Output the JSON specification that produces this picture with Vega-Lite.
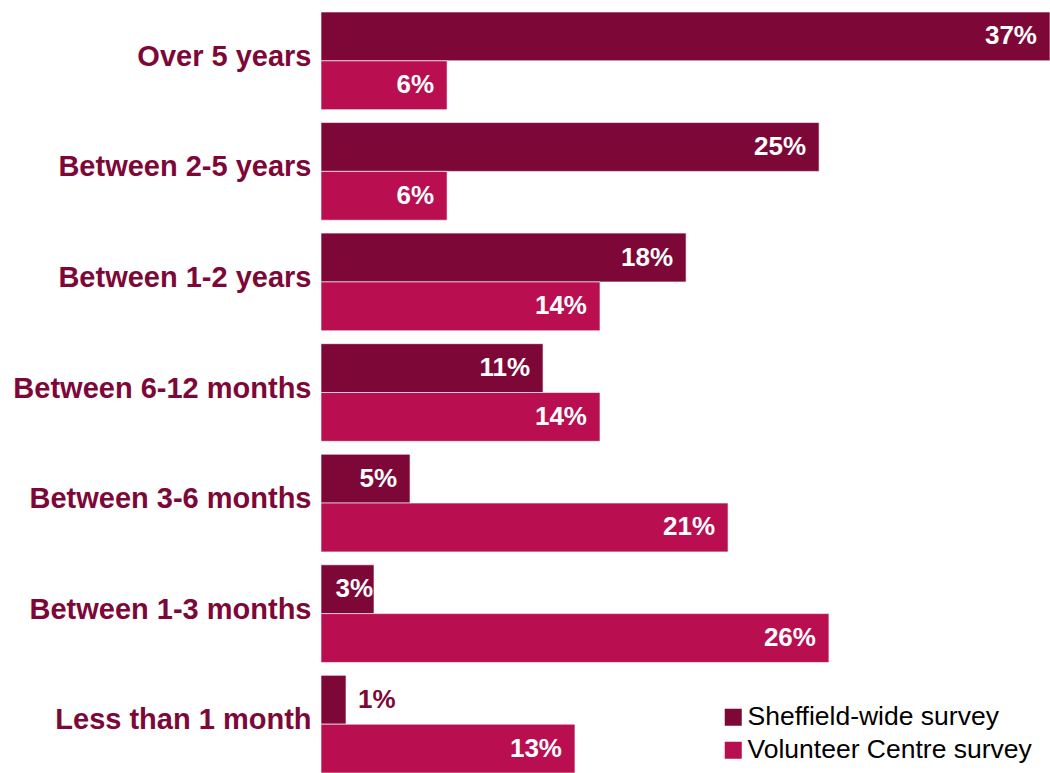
{
  "$schema": "https://vega.github.io/schema/vega-lite/v6.json",
  "autosize": {"type": "none"},
  "width": 729,
  "height": 761,
  "padding": {"left": 321, "top": 12, "right": 0, "bottom": 0},
  "background": "white",
  "config": {"view": {"stroke": null}, "font": "Liberation Sans"},
  "data": {
    "values": [
      {"category": "Over 5 years", "series": "Sheffield-wide survey", "value": 37.0, "label": "37%"},
      {"category": "Over 5 years", "series": "Volunteer Centre survey", "value": 6.4, "label": "6%"},
      {"category": "Between 2-5 years", "series": "Sheffield-wide survey", "value": 25.28, "label": "25%"},
      {"category": "Between 2-5 years", "series": "Volunteer Centre survey", "value": 6.4, "label": "6%"},
      {"category": "Between 1-2 years", "series": "Sheffield-wide survey", "value": 18.53, "label": "18%"},
      {"category": "Between 1-2 years", "series": "Volunteer Centre survey", "value": 14.16, "label": "14%"},
      {"category": "Between 6-12 months", "series": "Sheffield-wide survey", "value": 11.27, "label": "11%"},
      {"category": "Between 6-12 months", "series": "Volunteer Centre survey", "value": 14.16, "label": "14%"},
      {"category": "Between 3-6 months", "series": "Sheffield-wide survey", "value": 4.52, "label": "5%"},
      {"category": "Between 3-6 months", "series": "Volunteer Centre survey", "value": 20.66, "label": "21%"},
      {"category": "Between 1-3 months\u00a0", "series": "Sheffield-wide survey", "value": 2.69, "label": "3%"},
      {"category": "Between 1-3 months\u00a0", "series": "Volunteer Centre survey", "value": 25.78, "label": "26%"},
      {"category": "Less than 1 month", "series": "Sheffield-wide survey", "value": 1.27, "label": "1%"},
      {"category": "Less than 1 month", "series": "Volunteer Centre survey", "value": 12.89, "label": "13%"}
    ]
  },
  "encoding": {
    "y": {
      "field": "category", "type": "nominal", "sort": null, "title": null,
      "scale": {"paddingInner": 0.117, "paddingOuter": 0},
      "axis": {
        "domain": false, "ticks": false, "labelFont": "Liberation Sans",
        "labelFontWeight": "bold", "labelFontSize": 29, "labelColor": "#7D0838",
        "labelPadding": 10, "labelLimit": 0, "labelOffset": -4
      }
    },
    "yOffset": {"field": "series", "type": "nominal", "sort": null, "scale": {"paddingInner": 0, "paddingOuter": 0}},
    "x": {"field": "value", "type": "quantitative", "scale": {"domain": [0, 37], "nice": false, "zero": true}, "axis": null}
  },
  "layer": [
    {
      "mark": {"type": "bar", "stroke": "white", "strokeWidth": 1, "strokeOpacity": 0.6},
      "encoding": {
        "color": {
          "field": "series", "type": "nominal", "sort": null,
          "scale": {"domain": ["Sheffield-wide survey", "Volunteer Centre survey"], "range": ["#7D0838", "#B90E4F"]},
          "legend": {
            "title": null, "orient": "none", "legendX": 399, "legendY": 692,
            "symbolType": "square", "symbolSize": 290, "symbolStrokeWidth": 0,
            "labelFont": "Liberation Sans", "labelFontSize": 26.5, "labelColor": "#000000",
            "labelLimit": 0, "rowPadding": 6, "labelOffset": 1
          }
        }
      }
    },
    {
      "transform": [{"filter": "datum.value >= 4"}],
      "mark": {"type": "text", "align": "right", "baseline": "middle", "dx": -13, "fontWeight": "bold", "fontSize": 26, "fill": "white", "font": "Liberation Sans"},
      "encoding": {"text": {"field": "label"}}
    },
    {
      "transform": [{"filter": "datum.value >= 2 && datum.value < 4"}],
      "mark": {"type": "text", "align": "right", "baseline": "middle", "dx": -1, "fontWeight": "bold", "fontSize": 26, "fill": "white", "font": "Liberation Sans"},
      "encoding": {"text": {"field": "label"}}
    },
    {
      "transform": [{"filter": "datum.value < 2"}],
      "mark": {"type": "text", "align": "left", "baseline": "middle", "dx": 12, "fontWeight": "bold", "fontSize": 26, "fill": "#7D0838", "font": "Liberation Sans"},
      "encoding": {"text": {"field": "label"}}
    }
  ]
}
